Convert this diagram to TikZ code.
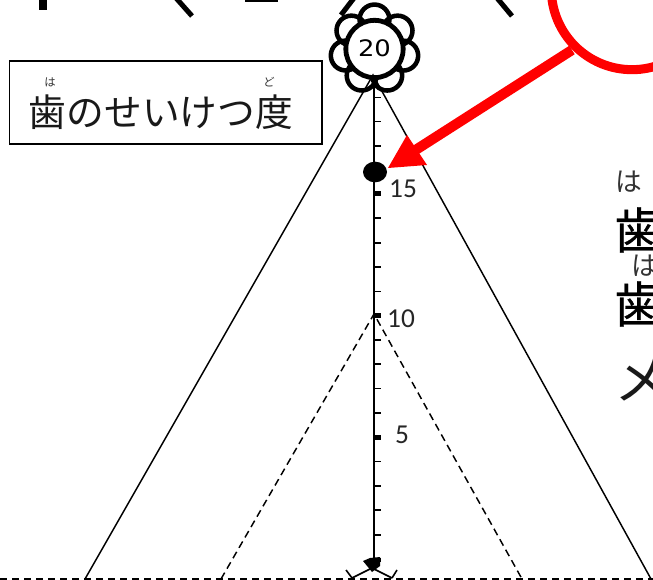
\documentclass[tikz,border=0pt]{standalone}
\usepackage{fontspec}
\setmainfont{Carlito}
\newfontfamily\jp{Noto Sans CJK JP}
\newfontfamily\jpb[FakeBold=0.5]{Noto Sans CJK JP}
\newfontfamily\wide{DejaVu Sans}
\usetikzlibrary{arrows.meta,shapes.geometric}
\tikzset{
  px/.style={x=0.75pt,y=-0.75pt},
  frag/.style={line width=3.8pt,black},
  tri/.style={line width=1.1pt,black},
  tridash/.style={tri,dash pattern=on 5.5pt off 3.5pt},
  minortick/.style={line width=1.2pt,black},
  majortick/.style={line width=3.6pt,black},
  num/.style={inner sep=0pt,font=\fontsize{20.5pt}{22pt}\selectfont,text=black!85},
  ruby/.style={inner sep=0pt,text=black!80,font=\jp\fontsize{8.5pt}{9pt}\selectfont},
  big/.style={inner sep=0pt,font=\jpb\fontsize{37pt}{40pt}\selectfont},
  bigthin/.style={inner sep=0pt,text=black!90,font=\jp\fontsize{41pt}{42pt}\selectfont},
  side/.style={inner sep=0pt,text=black!80,font=\jp\fontsize{20pt}{21pt}\selectfont},
  redline/.style={red,line width=6.8pt},
}
\begin{document}
\begin{tikzpicture}[px]
\clip (0,0) rectangle (653,580);
\fill[white] (0,0) rectangle (653,580);
% fragments of large text cut by the top edge
\fill[black] (39,-2) rectangle (47,10);
\draw[frag] (176,-2) -- (192,16);
\fill[black] (245,-2) rectangle (278,2.5);
\draw[frag] (354,-2) -- (341,15);
\draw[frag] (497,-2) -- (512,16);
% named points
\coordinate (apex) at (373,75);
\coordinate (dashapex) at (374,314);
\coordinate (L) at (85,579);
\coordinate (R) at (651,579);
\coordinate (dL) at (221,579);
\coordinate (dR) at (522,579);
\coordinate (foot) at (372,568);
\coordinate (axistop) at (374,75);
\coordinate (axisend) at (374,566);
\coordinate (fl) at (352,578);
\coordinate (fr) at (392,578);
% dashed triangle and ground line
\draw[tridash] (dL) -- (dashapex) -- (dR);
\draw[tridash,line width=1.5pt] (0,578.5) -- (653,578.5);
% flower
\foreach \a in {90,141.4,192.8,244.2,295.6,347,38.6}
  \draw[line width=3.4pt] ({374.5+29.5*cos(\a)},{49-29.5*sin(\a)}) circle [radius=11.2pt];
\node[circle,draw,line width=3.6pt,fill=white,minimum size=43pt,inner sep=0pt] (flower) at (374.5,49) {};
\node[inner sep=0pt,xscale=1.14,font=\wide\fontsize{17pt}{18pt}\selectfont] (twenty) at (374.5,48.5) {20};
% solid triangle
\draw[tri] (L) -- (apex) -- (R);
% axis
\draw[line width=1.6pt] (axistop) -- (axisend);
\foreach \y in {97.5,121.5,146,170,218,243,267,291.5,340,364,388.5,413,461.5,486,510,535}
  \draw[minortick] (374,\y) -- (381,\y);
\foreach \y in {77,193.5,315.5,437.5,560}
  \draw[majortick] (374,\y) -- (380.5,\y);
% foot
\fill[black] (363,561) -- (370,558) -- (380,557) -- (380,566) -- (372,572) -- cycle;
\draw[line width=1.2pt] (fl) -- (foot) -- (fr);
\draw[line width=1.2pt] (fl) -- (346,570);
\draw[line width=1.2pt] (fr) -- (397,570);
% title box
\node[draw,line width=1.1pt,minimum width=234.5pt,minimum height=62pt,inner sep=0pt] (box) at (165.8,102.5) {};
\node[inner sep=0pt,font=\jp\fontsize{28.3pt}{30pt}\selectfont,text=black!90] (title) at (161,112) {歯のせいけつ度};
\node[ruby] (ha) at (50,82) {は};
\node[ruby] (do) at (269,82) {ど};
% numbers
\node[num] (n15) at (403,189) {15};
\node[num] (n10) at (401,319) {10};
\node[num] (n5) at (402,435) {5};
% right side text
\node[side] (h1) at (629,182) {は};
\node[big] (t1) at (639,230) {歯};
\node[side] (h2) at (645,266) {は};
\node[big] (t2) at (639,304) {歯};
\node[bigthin] (me) at (642,380) {メ};
% marker
\node[ellipse,fill=black,inner sep=0pt,minimum width=18pt,minimum height=15.5pt] (dot) at (375,172) {};
% red callout
\draw[redline] (632,-11) circle [radius=60.5pt];
\coordinate (tip) at (388,168);
\coordinate (tail) at (572,50);
\fill[red] (tip) -- (407,135) -- (427,165) -- cycle;
\draw[redline,line width=7.6pt] (tail) -- (414,151);
\end{tikzpicture}
\end{document}
